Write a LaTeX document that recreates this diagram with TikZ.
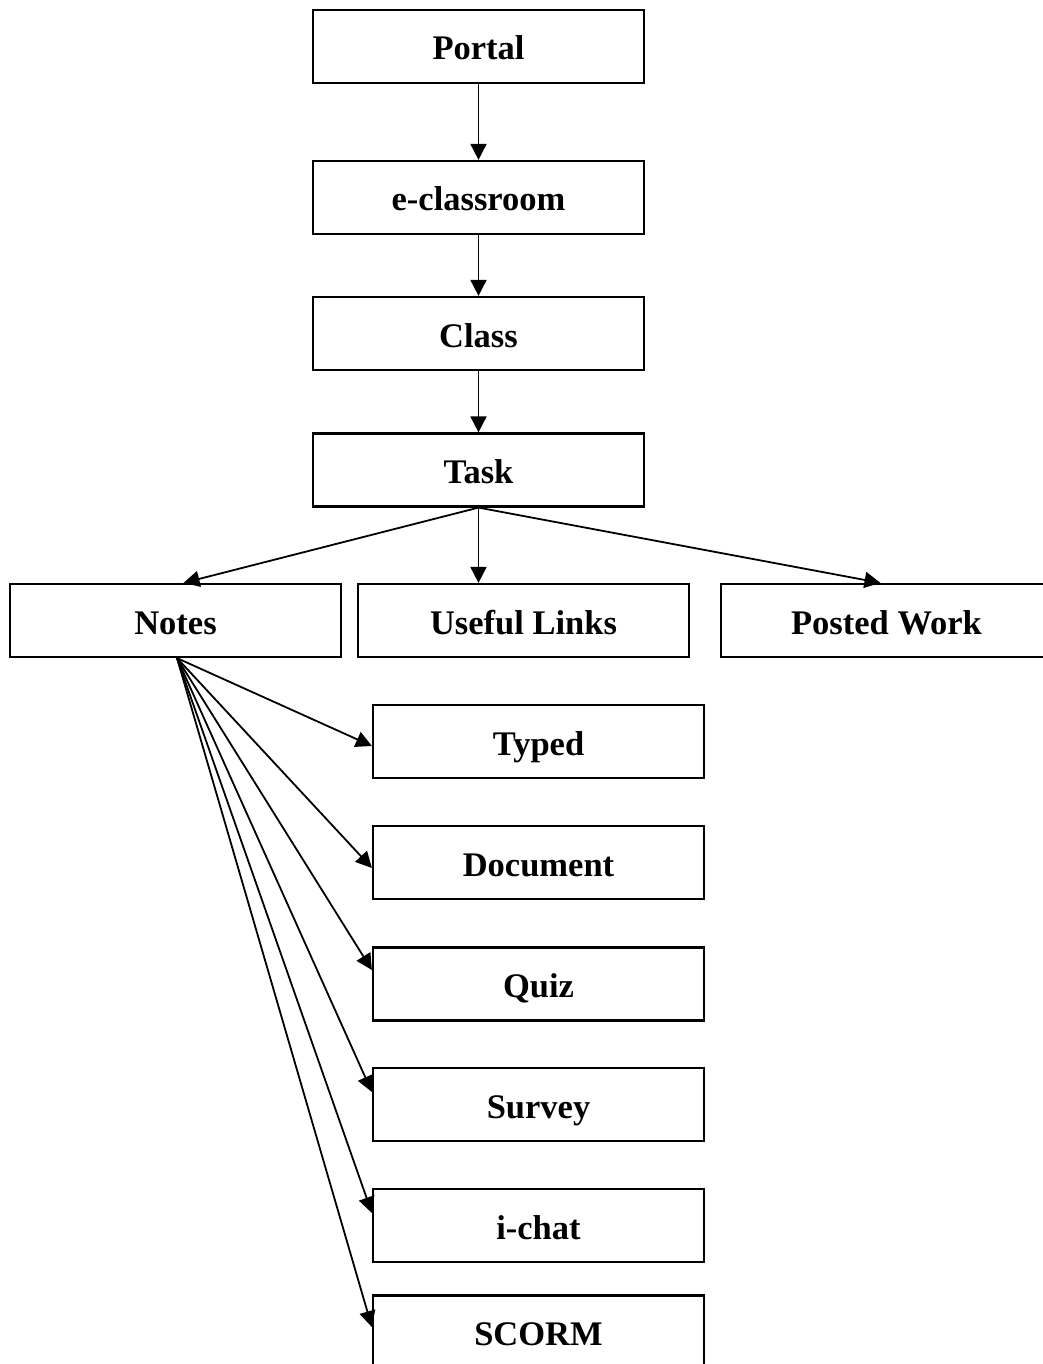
\documentclass[tikz,border=0pt]{standalone}
\usepackage{fontspec}
\setmainfont{Liberation Serif}
\usetikzlibrary{arrows.meta}
\tikzset{
  box/.style={draw=black, line width=2.2pt, fill=white, minimum width=331pt, minimum height=73pt,
    inner sep=0pt, text height=27pt, text depth=0pt, font=\fontsize{34.5}{40}\selectfont\bfseries},
  link/.style={line width=1.8pt, -{Triangle[length=16pt,width=16pt]}}
}
\begin{document}
\begin{tikzpicture}[x=1pt,y=-1pt]
\useasboundingbox (0,0) rectangle (1043,1364);
\begin{scope}
\clip (0,0) rectangle (1043,1364);
\node[box] (portal) at (478.5,46.5) {Portal};
\node[box] (eclass) at (478.5,197.5) {e-classroom};
\node[box] (class) at (478.5,333.5) {Class};
\node[box] (task) at (478.5,470) {Task};
\node[box] (notes) at (175.5,620.5) {Notes};
\node[box] (links) at (523.5,620.5) {Useful Links};
\node[box] (posted) at (886.5,620.5) {Posted Work};
\node[box] (typed) at (538.5,741.5) {Typed};
\node[box] (doc) at (538.5,862.5) {Document};
\node[box] (quiz) at (538.5,984) {Quiz};
\node[box] (survey) at (538.5,1104.5) {Survey};
\node[box] (ichat) at (538.5,1225.5) {i-chat};
\node[box] (scorm) at (538.5,1332) {SCORM};

\draw[link] (portal.south) -- (eclass.north);
\draw[link] (eclass.south) -- (class.north);
\draw[link] (class.south) -- (task.north);
\draw[link] (task.south) -- ([xshift=8pt]notes.north);
\draw[link] (task.south) -- (links.north -| task.south);
\draw[link] (task.south) -- ([xshift=-6pt]posted.north);

\coordinate (ns) at ([xshift=1.5pt]notes.south);
\draw[link] (ns) -- ([yshift=-4.5pt]typed.west);
\draw[link] (ns) -- ([yshift=-5.5pt]doc.west);
\draw[link] (ns) -- ([yshift=14pt]quiz.west);
\draw[link] (ns) -- ([yshift=12.5pt]survey.west);
\draw[link] (ns) -- ([yshift=12.5pt]ichat.west);
\draw[link] (ns) -- ([yshift=5pt]scorm.west);
\end{scope}
\end{tikzpicture}
\end{document}
